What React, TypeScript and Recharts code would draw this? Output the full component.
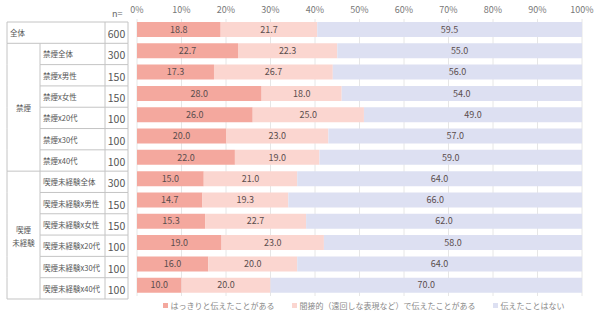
import React from 'react'
import {
  BarChart,
  Bar,
  XAxis,
  YAxis,
  CartesianGrid,
  Legend,
  LabelList,
} from 'recharts'

const categories = [
  '全体',
  '禁煙全体',
  '禁煙x男性',
  '禁煙x女性',
  '禁煙x20代',
  '禁煙x30代',
  '禁煙x40代',
  '喫煙未経験全体',
  '喫煙未経験x男性',
  '喫煙未経験x女性',
  '喫煙未経験x20代',
  '喫煙未経験x30代',
  '喫煙未経験x40代',
]
const groupOf = ['', '禁煙', '禁煙', '禁煙', '禁煙', '禁煙', '禁煙', '喫煙未経験', '喫煙未経験', '喫煙未経験', '喫煙未経験', '喫煙未経験', '喫煙未経験']
const sampleSizes = [600, 300, 150, 150, 100, 100, 100, 300, 150, 150, 100, 100, 100]
const explicitly = [18.8, 22.7, 17.3, 28.0, 26.0, 20.0, 22.0, 15.0, 14.7, 15.3, 19.0, 16.0, 10.0]
const indirectly = [21.7, 22.3, 26.7, 18.0, 25.0, 23.0, 19.0, 21.0, 19.3, 22.7, 23.0, 20.0, 20.0]
const never = [59.5, 55.0, 56.0, 54.0, 49.0, 57.0, 59.0, 64.0, 66.0, 62.0, 58.0, 64.0, 70.0]
const xTicks = [0, 10, 20, 30, 40, 50, 60, 70, 80, 90, 100]

const seriesNames = ['はっきりと伝えたことがある', '間接的（遠回しな表現など）で伝えたことがある', '伝えたことはない']
const colors = ['#f4a89e', '#fbd6d0', '#dde0f2']

const data = categories.map((name, i) => ({
  name,
  n: sampleSizes[i],
  group: groupOf[i],
  a: explicitly[i],
  b: indirectly[i],
  c: never[i],
}))

const FONT = '"Noto Sans CJK JP", "Noto Sans", sans-serif'
const ROW_H = 21.3
const LINE = '#c4c4c4'
const X0 = 7
const X1 = 40
const X2 = 105
const X3 = 128

function RowTick(props: any) {
  const { y, payload } = props
  const i = payload.index
  const top = y - ROW_H / 2 + 3
  const bottom = top + ROW_H
  const g = groupOf[i]
  const lastInGroup = i === categories.length - 1 || groupOf[i + 1] !== g
  const firstInGroup = i === 0 || groupOf[i - 1] !== g
  let groupSize = 0
  groupOf.forEach((x) => { if (x === g) groupSize++ })
  const groupMid = top + (groupSize * ROW_H) / 2

  return (
    <g fontFamily={FONT}>
      {i === 0 && <line x1={X0} x2={X3} y1={top} y2={top} stroke={LINE} />}
      <line x1={g === '' || lastInGroup ? X0 : X1} x2={X3} y1={bottom} y2={bottom} stroke={LINE} />
      <line x1={X0} x2={X0} y1={top} y2={bottom} stroke={LINE} />
      {g !== '' && <line x1={X1} x2={X1} y1={top} y2={bottom} stroke={LINE} />}
      <line x1={X2} x2={X2} y1={top} y2={bottom} stroke={LINE} />
      <line x1={X3} x2={X3} y1={top} y2={bottom} stroke={LINE} />
      {i === 0 && (
        <text x={X2 + 7} y={top - 5} fontSize={9} fill="#666">n=</text>
      )}
      <text x={g === '' ? X0 + 3 : X1 + 3} y={top + ROW_H / 2} dominantBaseline="central" fontSize={7.5} fill="#555">
        {payload.value}
      </text>
      <text x={(X2 + X3) / 2} y={top + ROW_H / 2 + 1} dominantBaseline="central" textAnchor="middle" fontSize={10.5} fill="#555">
        {sampleSizes[i]}
      </text>
      {g !== '' && firstInGroup && (
        g.length > 3 ? (
          <text x={(X0 + X1) / 2} y={groupMid} textAnchor="middle" fontSize={7.5} fill="#555">
            <tspan x={(X0 + X1) / 2} dy={-2}>{g.slice(0, 2)}</tspan>
            <tspan x={(X0 + X1) / 2} dy={13}>{g.slice(2)}</tspan>
          </text>
        ) : (
          <text x={(X0 + X1) / 2} y={groupMid} dominantBaseline="central" textAnchor="middle" fontSize={7.5} fill="#555">
            {g}
          </text>
        )
      )}
    </g>
  )
}

function LegendContent() {
  return (
    <div
      style={{
        width: 600,
        height: 18,
        display: 'flex',
        justifyContent: 'center',
        alignItems: 'center',
        paddingLeft: 145,
        paddingRight: 18,
        boxSizing: 'border-box',
        fontFamily: FONT,
        fontSize: 8,
        color: '#888',
        gap: 17,
      }}
    >
      {seriesNames.map((s, i) => (
        <span key={s} style={{ display: 'flex', alignItems: 'center', whiteSpace: 'nowrap' }}>
          <span style={{ width: 5, height: 5, background: colors[i], marginRight: 3, display: 'inline-block' }} />
          {s}
        </span>
      ))}
    </div>
  )
}

const fmt = (v: any) => Number(v).toFixed(1)

export default function App() {
  return (
    <div style={{ position: 'absolute', left: 0, top: 0, background: '#fff' }}>
      <BarChart
        width={600}
        height={321}
        data={data}
        layout="vertical"
        margin={{ top: 0, right: 18, left: 0, bottom: 7 }}
        barSize={15}
      >
        <CartesianGrid vertical horizontal={false} stroke="#e6e6e6" />
        <XAxis
          type="number"
          orientation="top"
          domain={[0, 100]}
          ticks={xTicks}
          tickFormatter={(v) => `${v}%`}
          axisLine={false}
          tickLine={false}
          tickSize={0}
          tickMargin={6}
          height={19}
          tick={{ fontSize: 9, fill: '#777', fontFamily: FONT }}
        />
        <YAxis
          type="category"
          dataKey="name"
          width={137}
          axisLine={false}
          tickLine={false}
          interval={0}
          tick={(p: any) => <RowTick {...p} />}
        />
        <Legend verticalAlign="bottom" content={() => <LegendContent />} wrapperStyle={{ left: 0, width: 600, height: 18 }} />
        <Bar dataKey="a" stackId="s" fill={colors[0]} isAnimationActive={false}>
          <LabelList dataKey="a" position="center" formatter={fmt} fill="#5a4d4d" fontSize={9} fontFamily={FONT} />
        </Bar>
        <Bar dataKey="b" stackId="s" fill={colors[1]} isAnimationActive={false}>
          <LabelList dataKey="b" position="center" formatter={fmt} fill="#5a4d4d" fontSize={9} fontFamily={FONT} />
        </Bar>
        <Bar dataKey="c" stackId="s" fill={colors[2]} isAnimationActive={false}>
          <LabelList dataKey="c" position="center" formatter={fmt} fill="#5a4d4d" fontSize={9} fontFamily={FONT} />
        </Bar>
      </BarChart>
    </div>
  )
}
